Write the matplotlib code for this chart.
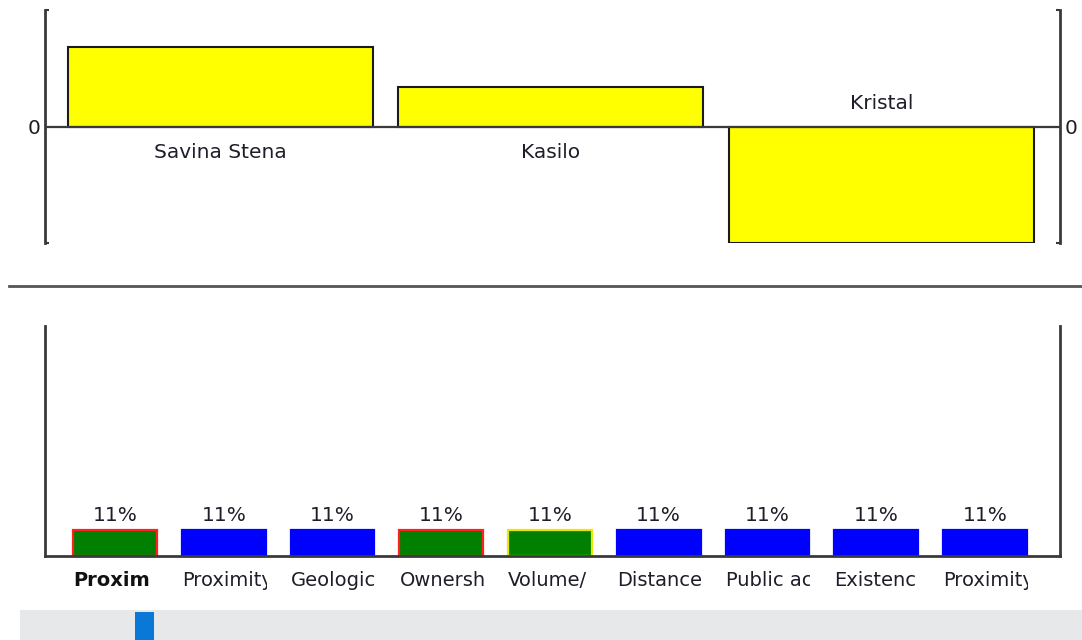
import matplotlib
matplotlib.use('Agg')
import matplotlib.pyplot as plt
from matplotlib.patches import Rectangle
from matplotlib.transforms import Bbox, TransformedBbox, blended_transform_factory

# top panel data
alternatives = ['Savina Stena', 'Kasilo', 'Kristal']
scores = [0.68, 0.34, -1.0]

# bottom panel data (labels are cut off in the original widget)
criteria = ['Proxim', 'Proximity', 'Geologic', 'Ownersh', 'Volume/',
            'Distance', 'Public ac', 'Existenc', 'Proximity']
weights = [11.1] * 9
weight_labels = ['11%'] * 9
face_colors = ['#007f00', '#0000ff', '#0000ff', '#007f00', '#007f00',
               '#0000ff', '#0000ff', '#0000ff', '#0000ff']
edge_colors = ['#ff2020', '#0000ff', '#0000ff', '#ff2020', '#e8e800',
               '#0000ff', '#0000ff', '#0000ff', '#0000ff']

plt.rcParams['font.family'] = ['DejaVu Sans']
FS = 14.5
SPINE = '#3a3a3a'
TXT = '#1e1e2a'

fig = plt.figure(figsize=(10.82, 6.40), dpi=100)
W, H = 1082, 640


def px_axes(x0, y0, x1, y1):
    return fig.add_axes([x0 / W, 1 - y1 / H, (x1 - x0) / W, (y1 - y0) / H])


# ---- top panel
ax = px_axes(45, 10, 1060, 243)
xs = range(len(alternatives))
ax.bar(xs, scores, width=0.923, color='#ffff00', edgecolor='#1a1a1a', linewidth=1.5, zorder=2)
ax.axhline(0, color='#3a3a3a', linewidth=1.6, zorder=3)
ax.set_xlim(-0.53, 2.54)
ax.set_ylim(-1.0, 1.0)
for s in ['top', 'bottom']:
    ax.spines[s].set_visible(False)
for s in ['left', 'right']:
    ax.spines[s].set_color(SPINE)
    ax.spines[s].set_linewidth(2)
ax.set_xticks([])
ax.set_yticks([-1, 0, 1])
ax.set_yticklabels(['', '0', ''])
ax.tick_params(axis='y', direction='in', length=3, width=1.5, color=SPINE, labelcolor=TXT,
               labelsize=FS, left=True, right=True, labelleft=True, labelright=True, pad=3)
ax.yaxis.get_major_ticks()[1].tick1line.set_visible(False)
ax.yaxis.get_major_ticks()[1].tick2line.set_visible(False)
for i, (name, v) in enumerate(zip(alternatives, scores)):
    off = -0.22 if v >= 0 else 0.2
    ax.text(i, off, name, ha='center', va='center', fontsize=FS, color=TXT)

# separator line
fig.add_artist(plt.Line2D([9 / W, 1], [1 - 286 / H, 1 - 286 / H], color='#555555', linewidth=2))

# ---- bottom panel
bx = px_axes(45, 326, 1060, 556)
pos = list(range(len(criteria)))
bw = 0.77
bx.bar(pos, weights, width=bw, color=face_colors, edgecolor=edge_colors, linewidth=1.6, zorder=2)
bx.set_xlim(-0.644, 8.69)
bx.set_ylim(0, 100)
bx.spines['top'].set_visible(False)
for s in ['left', 'right', 'bottom']:
    bx.spines[s].set_color(SPINE)
    bx.spines[s].set_linewidth(2)
bx.set_xticks([])
bx.set_yticks([])
for p, w, lab in zip(pos, weights, weight_labels):
    bx.text(p, w + 2.5, lab, ha='center', va='bottom', fontsize=FS, color=TXT)

trans = blended_transform_factory(bx.transData, bx.transAxes)
for i, name in enumerate(criteria):
    t = bx.text(i - bw / 2, -0.105, name, ha='left', va='center', fontsize=14, transform=trans,
                fontweight='bold' if i == 0 else 'normal', color='#111111' if i == 0 else TXT,
                clip_on=True)
    t.set_clip_box(TransformedBbox(Bbox([[i - bw / 2 - 0.05, -0.3], [i + bw / 2 + 0.01, 0]]), trans))

# scrollbar
fig.add_artist(Rectangle((20 / W, 0), 1 - 20 / W, 30 / H, transform=fig.transFigure,
                         facecolor='#e6e8ea', edgecolor='none'))
fig.add_artist(Rectangle((135 / W, 0), 19 / W, 28 / H, transform=fig.transFigure,
                         facecolor='#0a78d7', edgecolor='none'))

fig.savefig('out.png', dpi=100, facecolor='white')
